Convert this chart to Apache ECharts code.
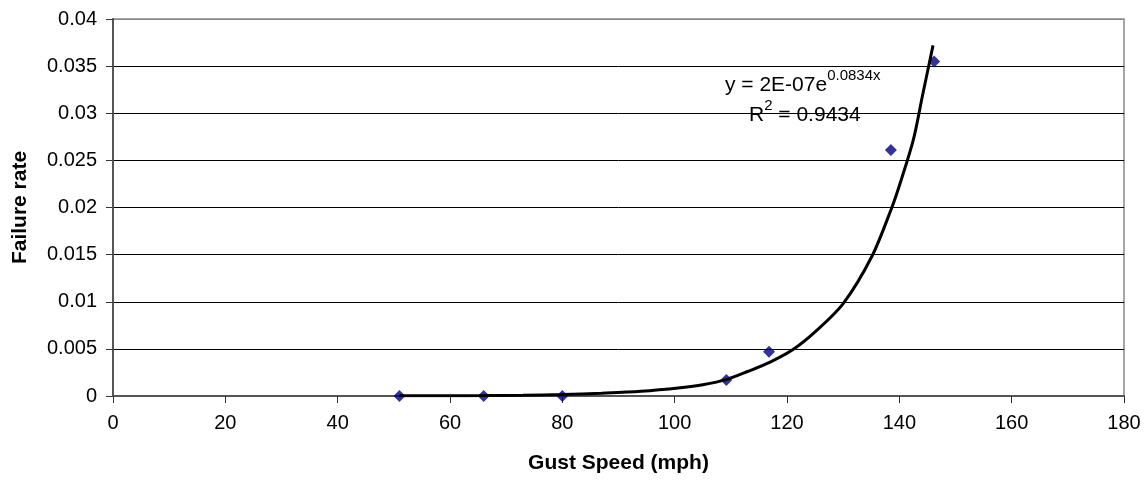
<!DOCTYPE html>
<html>
<head>
<meta charset="utf-8">
<script src="https://cdn.jsdelivr.net/npm/echarts@6/dist/echarts.min.js"></script>
<style>
html,body{margin:0;padding:0;background:#fff;}
#c{width:1145px;height:481px;}
</style>
</head>
<body>
<div id="c"></div>
<script>
// Observed data points
var gustSpeed = [51, 66, 80, 109.2, 116.8, 138.5, 146.2];
var failureRate = [0, 0, 0, 0.0017, 0.0047, 0.0261, 0.0355];
// Trend line
var trendX = [51, 60, 66, 73, 80, 87, 94, 101, 105, 109.3, 113, 117, 121, 125, 130, 135.1, 138.6, 140.1, 142.5, 144.1, 146];
var trendY = [0.00002, 0.00003, 0.00004, 0.00008, 0.00016, 0.0003, 0.0005, 0.00088, 0.0012, 0.00177, 0.0026, 0.0036, 0.0049, 0.0068, 0.0098, 0.0148, 0.0199, 0.0225, 0.0272, 0.0318, 0.0372];
var xTicks = {min: 0, max: 180, step: 20};
var yTicks = {min: 0, max: 0.04, step: 0.005};
var xTitle = 'Gust Speed (mph)';
var yTitle = 'Failure rate';
var eqLine1 = ['y = 2E-07e', '0.0834x'];
var eqLine2 = ['R', '2', ' = 0.9434'];

var FONT = "'Liberation Sans', Arial, Helvetica, sans-serif";
var chart = echarts.init(document.getElementById('c'));
var pts = gustSpeed.map(function (x, i) { return [x, failureRate[i]]; });
var trend = trendX.map(function (x, i) { return [x, trendY[i]]; });
var gridColors = [];
for (var k = 0; k <= Math.round((yTicks.max - yTicks.min) / yTicks.step); k++) gridColors.push('#000');
gridColors[gridColors.length - 1] = '#888';

chart.setOption({
  animation: false,
  backgroundColor: '#fff',
  textStyle: {fontFamily: FONT},
  grid: {left: 113, right: 21, top: 19, bottom: 85, show: true, borderColor: '#888', borderWidth: 1.5, backgroundColor: 'transparent'},
  xAxis: {
    type: 'value', min: xTicks.min, max: xTicks.max, interval: xTicks.step,
    name: xTitle, nameLocation: 'middle', nameGap: 57,
    nameTextStyle: {fontFamily: FONT, fontSize: 21, fontWeight: 'bold', color: '#000'},
    axisLine: {show: true, onZero: false, lineStyle: {color: '#555', width: 2}},
    axisTick: {show: true, inside: false, length: 7, lineStyle: {color: '#333', width: 1}},
    axisLabel: {fontFamily: FONT, fontSize: 20, color: '#000', margin: 17},
    splitLine: {show: false}
  },
  yAxis: {
    type: 'value', min: yTicks.min, max: yTicks.max, interval: yTicks.step,
    name: yTitle, nameLocation: 'middle', nameGap: 82,
    nameTextStyle: {fontFamily: FONT, fontSize: 21, fontWeight: 'bold', color: '#000'},
    axisLine: {show: true, lineStyle: {color: '#555', width: 2}},
    axisTick: {show: true, inside: false, length: 7, lineStyle: {color: '#333', width: 1}},
    axisLabel: {fontFamily: FONT, fontSize: 20, color: '#000', margin: 16},
    splitLine: {show: true, lineStyle: {color: gridColors, width: 1}}
  },
  series: [
    {
      type: 'scatter', data: pts, symbol: 'diamond', symbolSize: 12,
      itemStyle: {color: '#000080'}, z: 2
    },
    {
      type: 'line', data: trend, smooth: 0.3, showSymbol: false, symbol: 'none',
      lineStyle: {color: '#000', width: 3}, z: 3
    }
  ],
  graphic: [
    {
      type: 'text', left: 725, top: 68, z: 10,
      style: {
        text: '{m|' + eqLine1[0] + '}{s|' + eqLine1[1] + '}',
        rich: {
          m: {fontFamily: FONT, fontSize: 21, color: '#000', lineHeight: 28, verticalAlign: 'bottom'},
          s: {fontFamily: FONT, fontSize: 15, color: '#000', lineHeight: 12, verticalAlign: 'top'}
        }
      }
    },
    {
      type: 'text', left: 749, top: 98, z: 10,
      style: {
        text: '{m|' + eqLine2[0] + '}{s|' + eqLine2[1] + '}{m|' + eqLine2[2] + '}',
        rich: {
          m: {fontFamily: FONT, fontSize: 21, color: '#000', lineHeight: 28, verticalAlign: 'bottom'},
          s: {fontFamily: FONT, fontSize: 15, color: '#000', lineHeight: 10, verticalAlign: 'top'}
        }
      }
    }
  ]
});
</script>
</body>
</html>
